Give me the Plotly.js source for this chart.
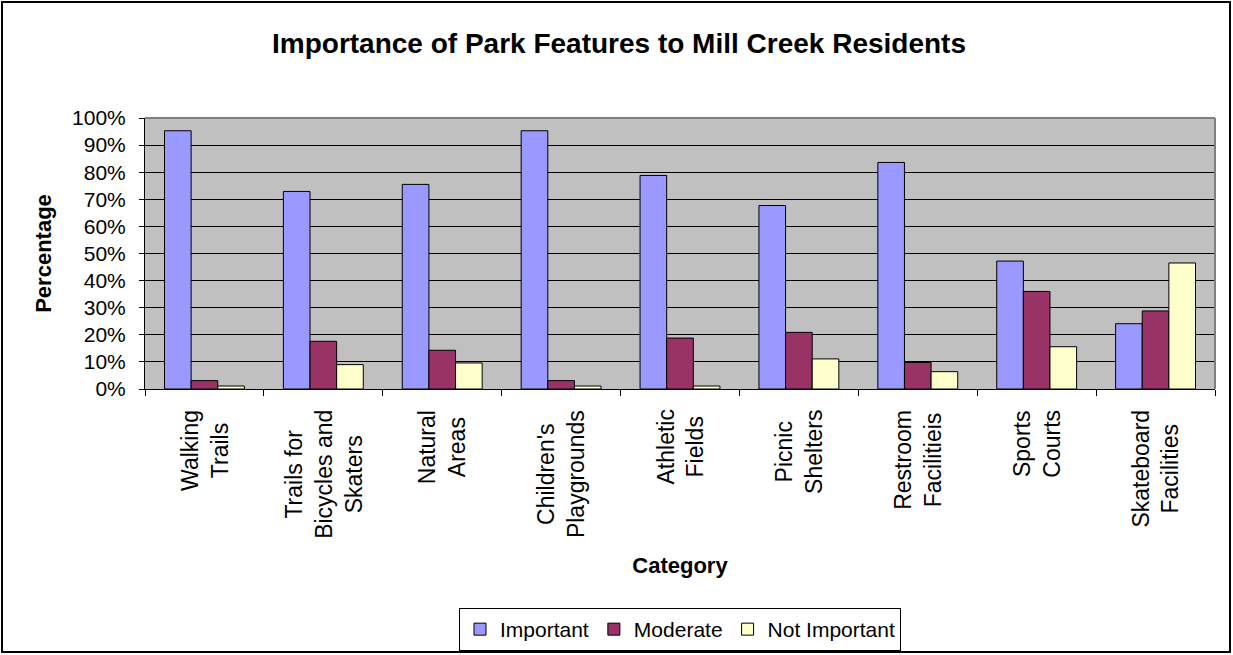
<!DOCTYPE html>
<html>
<head>
<meta charset="utf-8">
<script src="https://cdn.plot.ly/plotly-3.0.1.min.js"></script>
<style>
  html, body { margin: 0; padding: 0; background: #fff; }
  #chart { width: 1233px; height: 655px; }
</style>
</head>
<body>
<div id="chart"></div>
<script>
const categories = [
  "Walking<br>Trails",
  "Trails for<br>Bicycles and<br>Skaters",
  "Natural<br>Areas",
  "Children's<br>Playgrounds",
  "Athletic<br>Fields",
  "Picnic<br>Shelters",
  "Restroom<br>Facilitieis",
  "Sports<br>Courts",
  "Skateboard<br>Facilities"
];
const important    = [95.3, 72.9, 75.5, 95.3, 78.8, 67.7, 83.6, 47.2, 24.1];
const moderate     = [3.1, 17.6, 14.3, 3.1, 18.8, 20.9, 9.8, 36.0, 28.8];
const notImportant = [1.1, 9.0, 9.6, 1.1, 1.1, 11.1, 6.4, 15.6, 46.5];
const seriesNames  = ["Important", "Moderate", "Not Important"];
const yTicks = [0, 10, 20, 30, 40, 50, 60, 70, 80, 90, 100];

const FONT = '"Liberation Sans", Arial, Helvetica, sans-serif';
const colors = ["#9999FF", "#993366", "#FFFFCC"];
const seriesValues = [important, moderate, notImportant];

const traces = seriesValues.map((vals, i) => ({
  type: 'bar',
  name: seriesNames[i],
  x: categories,
  y: vals,
  marker: { color: colors[i], line: { color: '#000000', width: 1 } },
  hoverinfo: 'x+y+name'
}));

const annotations = categories.map(c => ({
  x: c, xref: 'x',
  y: 0, yref: 'paper',
  yanchor: 'top', xanchor: 'center',
  yshift: -19,
  text: c,
  textangle: -90,
  align: 'center',
  showarrow: false,
  font: { family: FONT, size: 23, color: '#000' }
}));

const layout = {
  width: 1233, height: 655,
  margin: { l: 145, r: 18, t: 118, b: 266, autoexpand: false },
  paper_bgcolor: '#ffffff',
  plot_bgcolor: '#C0C0C0',
  font: { family: FONT, color: '#000' },
  title: {
    text: '<b>Importance of Park Features to Mill Creek Residents</b>',
    font: { family: FONT, size: 28, color: '#000' },
    x: 619 / 1233, xref: 'container', xanchor: 'center',
    y: 1 - 43 / 655, yref: 'container', yanchor: 'middle'
  },
  barmode: 'group',
  bargap: 0.328,
  bargroupgap: 0,
  showlegend: true,
  legend: {
    orientation: 'h',
    x: 0.5, xref: 'paper', xanchor: 'center',
    y: 1 - 608 / 655, yref: 'container', yanchor: 'top',
    bgcolor: '#ffffff',
    bordercolor: '#000000', borderwidth: 1,
    font: { family: FONT, size: 21, color: '#000' },
    traceorder: 'normal'
  },
  xaxis: {
    type: 'category',
    showticklabels: false,
    ticks: 'outside', tickson: 'boundaries', ticklen: 6, tickcolor: '#000', tickwidth: 1,
    showline: true, linecolor: '#000', linewidth: 1,
    showgrid: false, zeroline: false,
    title: { text: '<b>Category</b>', font: { family: FONT, size: 22, color: '#000' }, standoff: 168 },
    fixedrange: true
  },
  yaxis: {
    range: [0, 100],
    tickvals: yTicks,
    ticktext: yTicks.map(v => v + '%'),
    ticks: 'outside', ticklen: 5, tickcolor: '#000', tickwidth: 1,
    ticklabelstandoff: 9,
    tickfont: { family: FONT, size: 21, color: '#000' },
    showline: true, linecolor: '#000', linewidth: 1,
    showgrid: true, gridcolor: '#000', gridwidth: 1,
    zeroline: false,
    title: { text: '<b>Percentage</b>', font: { family: FONT, size: 22, color: '#000' }, standoff: 14 },
    fixedrange: true
  },
  annotations: annotations,
  shapes: [
    { type: 'line', xref: 'paper', yref: 'paper', x0: 0, x1: 1, y0: 1, y1: 1,
      line: { color: '#808080', width: 2 }, layer: 'above' },
    { type: 'line', xref: 'paper', yref: 'paper', x0: 1, x1: 1, y0: 0, y1: 1,
      line: { color: '#808080', width: 2 }, layer: 'above' },
    { type: 'rect', xref: 'paper', yref: 'paper',
      x0: (2 - 145) / 1070, x1: (1230 - 145) / 1070,
      y0: (389 - 652) / 271, y1: (389 - 2) / 271,
      line: { color: '#000', width: 2 }, layer: 'above' }
  ]
};

Plotly.newPlot('chart', traces, layout, { displayModeBar: false, staticPlot: true });
</script>
</body>
</html>
